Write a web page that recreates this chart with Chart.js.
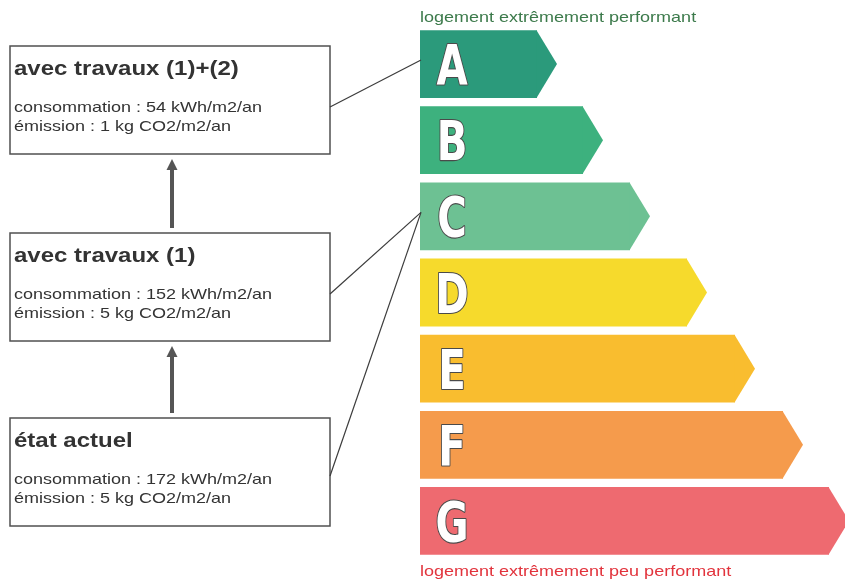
<!DOCTYPE html>
<html>
<head>
<meta charset="utf-8">
<script src="https://cdn.jsdelivr.net/npm/chart.js@4/dist/chart.umd.min.js"></script>
<style>
  body { margin: 0; background: #fff; }
  canvas { display: block; }
</style>
</head>
<body>
<canvas id="dpeChart" width="845" height="581"></canvas>
<script>
// Energy classes and bar lengths (length of the rectangle part)
const grades = ['A', 'B', 'C', 'D', 'E', 'F', 'G'];
const barLengths = [117, 163, 210, 267, 315, 363, 409];
const gradeColors = ['#2b9a7b', '#3db17e', '#6dc193', '#f6da2c', '#f9bd2f', '#f59b4c', '#ee6a70'];

// Scenarios shown on the left
const stageTitles = ['avec travaux (1)+(2)', 'avec travaux (1)', 'état actuel'];
const stageConsumption = [54, 152, 172];
const stageEmission = [1, 5, 5];
const stageGrade = ['A', 'C', 'C'];

const boxTops = [46, 233, 418];
const boxHeight = 108;
const boxLeft = 10, boxRight = 330;
const tipWidth = 20;
const stretch = 1.2; // the original text is a bit wider than plain Arial

function stretchedText(ctx, text, x, y, sx) {
  ctx.save();
  ctx.translate(x, y);
  ctx.scale(sx || stretch, 1);
  ctx.fillText(text, 0, 0);
  ctx.restore();
}

// arrow tips + big letters on each bar
const arrowBars = {
  id: 'arrowBars',
  afterDatasetsDraw(chart) {
    const ctx = chart.ctx;
    const meta = chart.getDatasetMeta(0);
    meta.data.forEach(function(bar, i) {
      const h = bar.height;
      ctx.save();
      ctx.fillStyle = gradeColors[i];
      ctx.beginPath();
      ctx.moveTo(bar.x - 0.5, bar.y - h / 2);
      ctx.lineTo(bar.x + tipWidth, bar.y);
      ctx.lineTo(bar.x - 0.5, bar.y + h / 2);
      ctx.closePath();
      ctx.fill();

      // letter, squeezed to look like the condensed label font
      ctx.translate(bar.base + 32, bar.y + 20);
      ctx.scale(0.8, 1);
      ctx.font = 'bold 56px "DejaVu Sans Condensed", "DejaVu Sans", sans-serif';
      ctx.textAlign = 'center';
      ctx.textBaseline = 'alphabetic';
      ctx.lineJoin = 'round';
      ctx.lineWidth = 2.2;
      ctx.strokeStyle = '#4a4a4a';
      ctx.strokeText(grades[i], 0, 0);
      ctx.fillStyle = '#ffffff';
      ctx.fillText(grades[i], 0, 0);
      ctx.restore();
    });

    // captions above and below the scale
    ctx.save();
    ctx.font = '15px "Liberation Sans", Arial, sans-serif';
    ctx.fillStyle = '#3c7a4b';
    stretchedText(ctx, 'logement extrêmement performant', 420, 22);
    ctx.fillStyle = '#e2343d';
    stretchedText(ctx, 'logement extrêmement peu performant', 420, 576);
    ctx.restore();
  }
};

// scenario boxes, arrows between them and connectors to the classes
const scenarioBoxes = {
  id: 'scenarioBoxes',
  afterDraw(chart) {
    const ctx = chart.ctx;
    const yScale = chart.scales.y;
    ctx.save();
    stageTitles.forEach(function(title, i) {
      const top = boxTops[i];
      ctx.strokeStyle = '#505050';
      ctx.lineWidth = 1.5;
      ctx.strokeRect(boxLeft, top, boxRight - boxLeft, boxHeight);

      ctx.fillStyle = '#333';
      ctx.font = 'bold 20px "Liberation Sans", Arial, sans-serif';
      stretchedText(ctx, title, 14, top + 29);
      ctx.font = '15px "Liberation Sans", Arial, sans-serif';
      stretchedText(ctx, 'consommation : ' + stageConsumption[i] + ' kWh/m2/an', 14, top + 66);
      stretchedText(ctx, 'émission : ' + stageEmission[i] + ' kg CO2/m2/an', 14, top + 85);

      // connector to the class reached
      const gy = yScale.getPixelForValue(grades.indexOf(stageGrade[i])) - 4;
      ctx.strokeStyle = '#3c3c3c';
      ctx.lineWidth = 1.2;
      ctx.beginPath();
      ctx.moveTo(boxRight, i === 2 ? top + 58 : top + 61);
      ctx.lineTo(421, gy);
      ctx.stroke();
    });

    // upward arrows between boxes
    for (let i = 1; i < boxTops.length; i++) {
      const x = 172;
      const from = boxTops[i] - 5;
      const to = boxTops[i - 1] + boxHeight + 5;
      ctx.fillStyle = '#555';
      ctx.fillRect(x - 2, to + 9, 4, from - to - 9);
      ctx.beginPath();
      ctx.moveTo(x, to);
      ctx.lineTo(x + 5.5, to + 11);
      ctx.lineTo(x - 5.5, to + 11);
      ctx.closePath();
      ctx.fill();
    }
    ctx.restore();
  }
};

new Chart(document.getElementById('dpeChart').getContext('2d'), {
  type: 'bar',
  data: {
    labels: grades,
    datasets: [{
      data: barLengths,
      backgroundColor: gradeColors,
      borderWidth: 0,
      barPercentage: 0.89,
      categoryPercentage: 1
    }]
  },
  options: {
    indexAxis: 'y',
    responsive: false,
    animation: false,
    layout: { padding: { left: 420, right: 0, top: 26, bottom: 22 } },
    scales: {
      x: { display: false, min: 0, max: 425 },
      y: { display: false }
    },
    plugins: {
      legend: { display: false },
      tooltip: { enabled: false }
    }
  },
  plugins: [arrowBars, scenarioBoxes]
});
</script>
</body>
</html>
